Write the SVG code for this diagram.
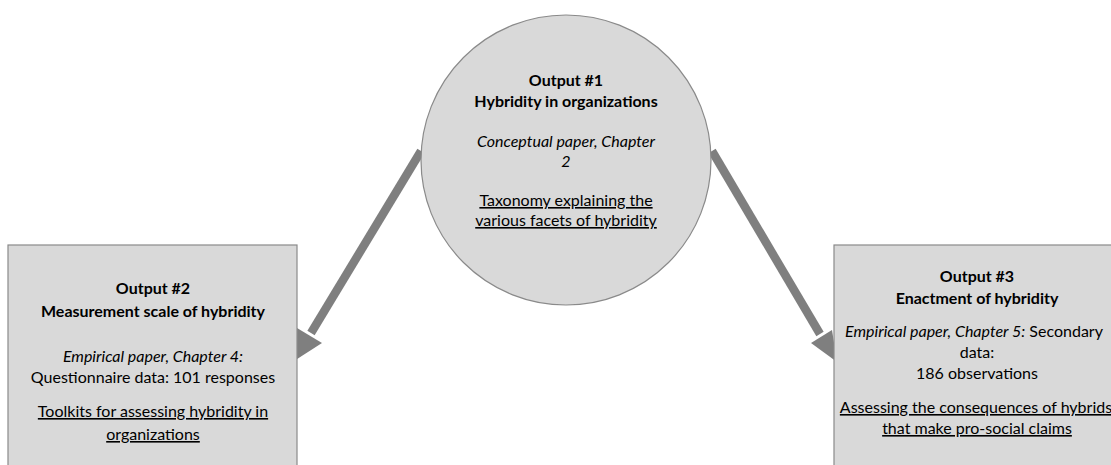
<svg xmlns="http://www.w3.org/2000/svg" width="1111" height="465" viewBox="0 0 1111 465">
  <style>
    .node { fill: #d9d9d9; stroke: #8a8a8a; stroke-width: 1.2; }
    .shaft { stroke: #7f7f7f; stroke-width: 8.5; fill: none; }
    .head { fill: #7f7f7f; }
    text { font-family: Lato, "Open Sans", "Liberation Sans", sans-serif; font-size: 16px; fill: #000; text-anchor: middle; }
    .b { font-weight: bold; }
    .i { font-style: italic; }
    .u { text-decoration: underline; }
  </style>
  <rect width="1111" height="465" fill="#ffffff"/>

  <!-- connectors: thick grey arrows from the central circle to both boxes -->
  <g id="connectors">
    <line class="shaft" x1="421" y1="151" x2="311" y2="333"/>
    <polygon class="head" points="294,361 297,328 322,343"/>
    <line class="shaft" x1="712" y1="151" x2="820" y2="334"/>
    <polygon class="head" points="837,362 811,343 832,330"/>
  </g>

  <!-- central conceptual output -->
  <g id="output1">
    <circle class="node" cx="566" cy="160" r="145"/>
    <text class="b" x="566" y="86">Output #1</text>
    <text class="b" x="566" y="107">Hybridity in organizations</text>
    <text class="i" x="566" y="147">Conceptual paper, Chapter</text>
    <text class="i" x="566" y="167">2</text>
    <text class="u" x="566" y="206">Taxonomy explaining the</text>
    <text class="u" x="566" y="226">various facets of hybridity</text>
  </g>

  <!-- left empirical output -->
  <g id="output2">
    <rect class="node" x="8" y="245" width="289" height="230"/>
    <text class="b" x="153" y="294">Output #2</text>
    <text class="b" x="153" y="317">Measurement scale of hybridity</text>
    <text class="i" x="153" y="362">Empirical paper, Chapter 4:</text>
    <text x="153" y="383">Questionnaire data: 101 responses</text>
    <text class="u" x="153" y="417">Toolkits for assessing hybridity in</text>
    <text class="u" x="153" y="440">organizations</text>
  </g>

  <!-- right empirical output -->
  <g id="output3">
    <rect class="node" x="834" y="245" width="289" height="230"/>
    <text class="b" x="977" y="282">Output #3</text>
    <text class="b" x="977" y="304">Enactment of hybridity</text>
    <text x="974" y="337"><tspan class="i">Empirical paper, Chapter 5:</tspan> Secondary</text>
    <text x="977" y="358">data:</text>
    <text x="977" y="379">186 observations</text>
    <text class="u" x="976" y="413">Assessing the consequences of hybrids</text>
    <text class="u" x="977" y="434">that make pro-social claims</text>
  </g>
</svg>
